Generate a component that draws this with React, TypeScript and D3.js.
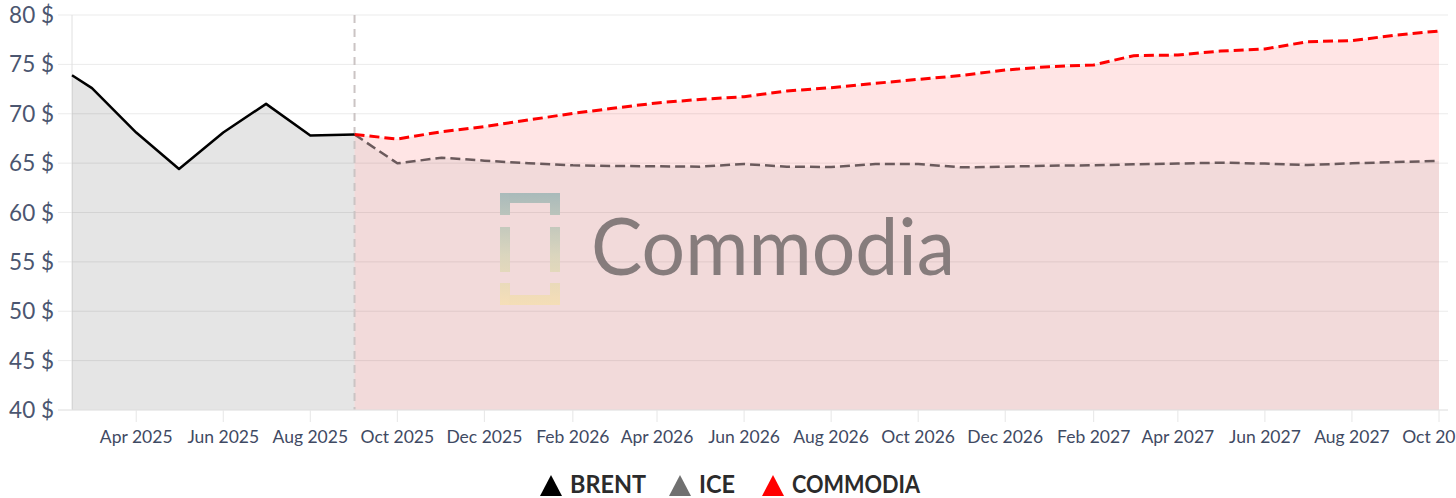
import React from "react";
import * as d3 from "d3";

// ---------- DATA ----------
const brentDates = ["2025-02-15", "2025-03-01", "2025-04-01", "2025-05-01", "2025-06-01", "2025-07-01", "2025-08-01", "2025-09-01"];
const brentValues = [73.9, 72.6, 68.1, 64.4, 68.1, 71.0, 67.8, 67.9];

const forecastDates = [
  "2025-09-01", "2025-10-01", "2025-11-01", "2025-12-01",
  "2026-01-01", "2026-02-01", "2026-03-01", "2026-04-01", "2026-05-01", "2026-06-01",
  "2026-07-01", "2026-08-01", "2026-09-01", "2026-10-01", "2026-11-01", "2026-12-01",
  "2027-01-01", "2027-02-01", "2027-03-01", "2027-04-01", "2027-05-01", "2027-06-01",
  "2027-07-01", "2027-08-01", "2027-09-01", "2027-10-01",
];
const iceValues = [
  67.9, 64.98, 65.55, 65.25,
  64.98, 64.78, 64.71, 64.68, 64.64, 64.91,
  64.64, 64.61, 64.91, 64.91, 64.57, 64.64,
  64.74, 64.78, 64.88, 64.95, 65.05, 64.95,
  64.81, 64.98, 65.11, 65.22,
];
const commodiaValues = [
  67.9, 67.44, 68.18, 68.69,
  69.37, 70.04, 70.55, 71.1, 71.45, 71.73,
  72.3, 72.64, 73.08, 73.48, 73.89, 74.43,
  74.77, 74.94, 75.88, 75.95, 76.35, 76.56,
  77.3, 77.4, 77.97, 78.38,
];

const xTickLabels = [
  "Apr 2025", "Jun 2025", "Aug 2025", "Oct 2025", "Dec 2025", "Feb 2026", "Apr 2026",
  "Jun 2026", "Aug 2026", "Oct 2026", "Dec 2026", "Feb 2027", "Apr 2027", "Jun 2027",
  "Aug 2027", "Oct 2027",
];
const yTicks = [40, 45, 50, 55, 60, 65, 70, 75, 80];
const legendLabels = ["BRENT", "ICE", "COMMODIA"];
const legendColors = ["#000000", "#707070", "#ff0000"];
const splitDate = "2025-09-01";

// ---------- LAYOUT ----------
const W = 1456;
const H = 498;
const left = 72;
const right = 1439;
const top = 15;
const bottom = 410;
const legendX = [540, 669, 762];
const legendTextW = [76, 36, 128];

const parse = d3.timeParse("%Y-%m-%d");
const parseTick = d3.timeParse("%b %Y");

type Pt = { d: Date; v: number };
const brent: Pt[] = brentDates.map((s, i) => ({ d: parse(s)!, v: brentValues[i] }));
const ice: Pt[] = forecastDates.map((s, i) => ({ d: parse(s)!, v: iceValues[i] }));
const comm: Pt[] = forecastDates.map((s, i) => ({ d: parse(s)!, v: commodiaValues[i] }));

const x = d3.scaleTime().domain([brent[0].d, comm[comm.length - 1].d]).range([left, right]);
const y = d3.scaleLinear().domain([40, 80]).range([bottom, top]);

const line = d3.line<Pt>().x((p) => x(p.d)).y((p) => y(p.v));
const area = d3.area<Pt>().x((p) => x(p.d)).y0(y(40)).y1((p) => y(p.v));

const FONT = "Lato, 'Noto Sans', sans-serif";

export default function App() {
  const splitX = x(parse(splitDate)!);
  return (
    <svg
      width={W}
      height={H}
      style={{ position: "absolute", left: 0, top: 0, display: "block", background: "#fff" }}
    >
      <defs>
        <linearGradient id="logoGrad" x1="0" y1="0" x2="0" y2="1">
          <stop offset="0%" stopColor="#a6b9b9" />
          <stop offset="55%" stopColor="#d9d5bd" />
          <stop offset="100%" stopColor="#f6dfb6" />
        </linearGradient>
      </defs>

      {/* grid */}
      {yTicks.map((t) => (
        <line key={t} x1={58} x2={1448} y1={y(t)} y2={y(t)} stroke="#ebebeb" strokeWidth={1} />
      ))}
      <line x1={left} x2={left} y1={top} y2={bottom} stroke="#e0e0e0" strokeWidth={1} />

      {/* fills */}
      <path d={area(brent)!} fill="rgba(0,0,0,0.1)" />
      <path d={area(comm)!} fill="rgba(255,0,0,0.1)" />
      <path d={area(ice)!} fill="rgba(128,128,128,0.1)" />

      {/* watermark */}
      <g opacity={0.95}>
        <path
          d="M500,193 H560 V215 H550 V203 H510 V215 H500 Z M500,227 H510 V272 H500 Z M550,227 H560 V272 H550 Z M500,283 H510 V295 H550 V283 H560 V305 H500 Z"
          fill="url(#logoGrad)"
        />
        <text
          x={591}
          y={275}
          fontFamily={FONT}
          fontSize={80}
          fontWeight={400}
          fill="#817778"
          textLength={364}
          lengthAdjust="spacingAndGlyphs"
        >
          Commodia
        </text>
      </g>

      {/* split line */}
      <line x1={splitX} x2={splitX} y1={top} y2={bottom} stroke="#cbc4c4" strokeWidth={2} strokeDasharray="8,6" />

      {/* x axis */}
      <line x1={58} x2={1448} y1={bottom} y2={bottom} stroke="#e6e6e6" strokeWidth={1} />
      {xTickLabels.map((l) => {
        const tx = x(parseTick(l)!);
        return (
          <g key={l}>
            <line x1={tx} x2={tx} y1={bottom} y2={bottom + 12} stroke="#e6e6e6" strokeWidth={1} />
            <text x={tx} y={443} textAnchor="middle" fontFamily={FONT} fontSize={17.5} fill="#3f4a63">
              {l}
            </text>
          </g>
        );
      })}

      {/* y axis labels */}
      {yTicks.map((t) => (
        <text key={t} x={54} y={y(t) + 8} textAnchor="end" fontFamily={FONT} fontSize={22.5} fill="#4b5670">
          {`${t} $`}
        </text>
      ))}

      {/* lines */}
      <path d={line(ice)!} fill="none" stroke="#6b5a5c" strokeWidth={2.5} strokeDasharray="10,5" />
      <path d={line(comm)!} fill="none" stroke="#ff0000" strokeWidth={3} strokeDasharray="10,5" />
      <path d={line(brent)!} fill="none" stroke="#000" strokeWidth={2.5} strokeLinejoin="round" />

      {/* legend */}
      {legendLabels.map((label, i) => {
        const lx = legendX[i];
        return (
          <g key={label}>
            <path d={`M${lx},496 L${lx + 11},475 L${lx + 22},496 Z`} fill={legendColors[i]} />
            <text
              x={lx + 30}
              y={493}
              fontFamily={FONT}
              fontSize={24}
              fontWeight={700}
              fill="#2b2b2b"
              textLength={legendTextW[i]}
              lengthAdjust="spacingAndGlyphs"
            >
              {label}
            </text>
          </g>
        );
      })}
    </svg>
  );
}
